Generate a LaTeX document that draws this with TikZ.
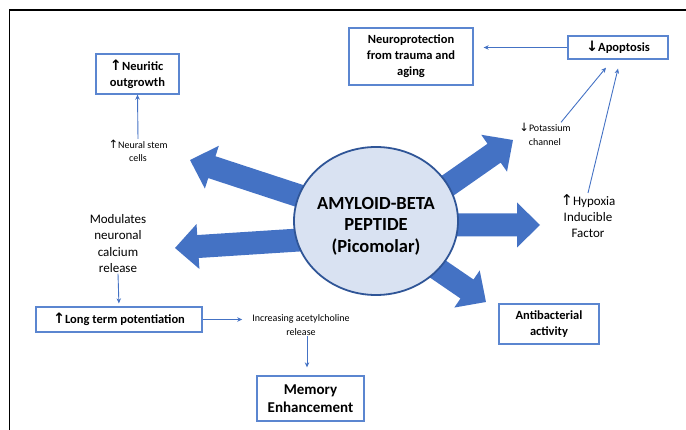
\documentclass[tikz,border=0pt]{standalone}
\usepackage{fontspec}
\setmainfont{Carlito}
\newfontfamily\arrfont{DejaVu Sans}
\usetikzlibrary{calc,shapes.geometric,arrows.meta}
\definecolor{ablue}{HTML}{4472C4}
\definecolor{boxblue}{HTML}{5B86D0}
\definecolor{circfill}{HTML}{D9E2F2}
\definecolor{circline}{HTML}{2F5597}
\newcommand\upar{{\arrfont\scalebox{1.15}{↑}}}
\newcommand\dnar{{\arrfont\scalebox{1.15}{↓}}}
\newcommand\blockarrow[2]{%
  \fill[ablue] let \p1=(#1), \p2=(#2), \n1={atan2(\y2-\y1,\x2-\x1)}, \n2={veclen(\x2-\x1,\y2-\y1)} in
   [shift={(\p1)}, rotate=\n1] (0pt,-11.5pt) -- ({\n2-23pt},-11.5pt) -- ({\n2-23pt},-22.5pt) -- ({\n2},0pt) -- ({\n2-23pt},22.5pt) -- ({\n2-23pt},11.5pt) -- (0pt,11.5pt) -- cycle;}
\begin{document}
\begin{tikzpicture}[x=1pt,y=-1pt,
  box/.style={draw=boxblue, line width=1.3pt, font=\bfseries\fontsize{12.5}{16}\selectfont, align=center, inner sep=0pt},
  lbl/.style={font=\fontsize{13}{16.3}\selectfont, align=center, inner sep=1pt},
  small/.style={font=\fontsize{10}{13.5}\selectfont, align=center, inner sep=1pt},
  thinarrow/.style={draw=ablue, line width=0.9pt, -{Stealth[length=5pt,width=4.5pt]}}]
\useasboundingbox (0,0) rectangle (686,430);
\draw[line width=1.2pt] (686,10) -- (9.5,10) -- (9.5,430);
% block arrows
\coordinate (s1) at (376,221); \coordinate (t1) at (190,160);
\coordinate (s2) at (330,238); \coordinate (t2) at (175,248);
\coordinate (s3) at (420,205); \coordinate (t3) at (513,140);
\coordinate (s4) at (420,225); \coordinate (t4) at (540,225);
\coordinate (s5) at (410,250); \coordinate (t5) at (486,302);
\blockarrow{s1}{t1}
\blockarrow{s2}{t2}
\blockarrow{s3}{t3}
\blockarrow{s4}{t4}
\blockarrow{s5}{t5}
% circle
\node[ellipse, draw=circline, fill=circfill, line width=1.8pt, minimum width=164pt, minimum height=148pt, inner sep=0pt] (amy) at (376,221) {};
\node[font=\bfseries\fontsize{18.5}{21.5}\selectfont, align=center, inner sep=0pt] (amytxt) at (376,226) {AMYLOID-BETA\\PEPTIDE\\(Picomolar)};
% boxes
\node[box, minimum width=83pt, minimum height=40pt, align=left] (neur) at (137.5,74) {\upar Neuritic\\outgrowth};
\node[box, minimum width=124pt, minimum height=57pt] (prot) at (411,56.5) {Neuroprotection\\from trauma and\\aging};
\node[box, minimum width=100pt, minimum height=23pt] (apop) at (618,47.5) {\dnar Apoptosis};
\node[box, minimum width=166pt, minimum height=25pt] (ltp) at (119,319.5) {\upar Long term potentiation};
\node[box, minimum width=107pt, minimum height=45pt, font=\bfseries\fontsize{15}{18.5}\selectfont] (mem) at (310.5,398.5) {Memory\\Enhancement};
\node[box, minimum width=100pt, minimum height=40pt] (anti) at (549,324) {Antibacterial\\activity};
% labels
\node[small] (stem) at (138,151) {\upar Neural stem\\cells};
\node[small] (pot) at (545,134.5) {\dnar Potassium\\channel};
\node[lbl] (hyp) at (588,216) {\upar Hypoxia\\Inducible\\Factor};
\node[lbl] (mod) at (118,243.5) {Modulates\\neuronal\\calcium\\release};
\node[small] (acet) at (301,325) {Increasing acetylcholine\\release};
% thin arrows
\draw[thinarrow] (stem.north) -- (neur.south);
\draw[thinarrow, shorten >=10pt] (apop.west) -- (apop.west -| prot.east);
\draw[thinarrow] ([xshift=16pt]pot.north) -- ([xshift=-12pt,yshift=-8pt]apop.south);
\draw[thinarrow] (hyp.north) -- ([yshift=-9pt]apop.south);
\draw[thinarrow, shorten >=3pt] (mod.south) -- (ltp.north);
\draw[thinarrow, shorten >=9pt] (ltp.east) -- (ltp.east -| acet.west);
\draw[thinarrow, shorten >=8pt] ([xshift=-3.5pt]acet.south -| mem.north) -- ([xshift=-3.5pt]mem.north);
\end{tikzpicture}
\end{document}
